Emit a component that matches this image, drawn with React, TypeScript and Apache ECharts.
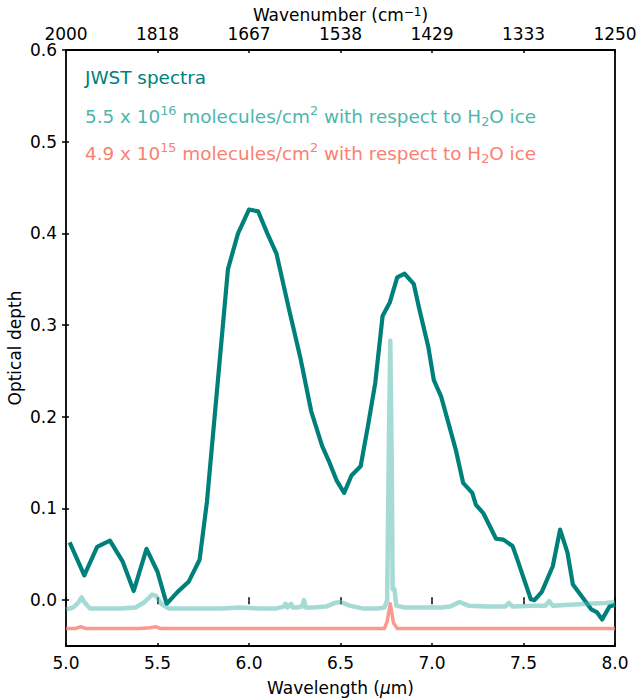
import React, { useEffect, useRef } from "react";
import * as echarts from "echarts";

// Wavelength ticks (µm) and matching wavenumber tick labels (cm^-1)
const wavelengthTicks = [5.0, 5.5, 6.0, 6.5, 7.0, 7.5, 8.0];
const wavenumberLabels = ["2000", "1818", "1667", "1538", "1429", "1333", "1250"];
const depthTicks = [0.0, 0.1, 0.2, 0.3, 0.4, 0.5, 0.6];

// JWST spectra
const jwstX = [5.02, 5.10, 5.17, 5.24, 5.31, 5.37, 5.44, 5.50, 5.55, 5.61, 5.67, 5.73, 5.77, 5.885, 5.94, 6.00, 6.05, 6.10, 6.15, 6.22, 6.28, 6.34, 6.40, 6.44, 6.48, 6.52, 6.56, 6.61, 6.65, 6.69, 6.73, 6.77, 6.81, 6.85, 6.90, 6.93, 6.98, 7.01, 7.05, 7.13, 7.17, 7.22, 7.24, 7.28, 7.35, 7.39, 7.44, 7.46, 7.54, 7.56, 7.60, 7.66, 7.70, 7.74, 7.77, 7.83, 7.87, 7.90, 7.93, 7.97, 8.0];
const jwstY = [0.063, 0.027, 0.058, 0.065, 0.042, 0.010, 0.056, 0.031, -0.004, 0.009, 0.020, 0.044, 0.107, 0.361, 0.400, 0.426, 0.424, 0.400, 0.378, 0.316, 0.265, 0.206, 0.168, 0.150, 0.130, 0.117, 0.136, 0.146, 0.190, 0.237, 0.310, 0.325, 0.352, 0.356, 0.345, 0.318, 0.276, 0.240, 0.222, 0.164, 0.128, 0.117, 0.104, 0.095, 0.067, 0.066, 0.059, 0.048, 0.001, 0.000, 0.009, 0.037, 0.077, 0.052, 0.017, 0.001, -0.010, -0.013, -0.021, -0.007, -0.005];

// 5.5 x 10^16 molecules/cm^2 w.r.t. H2O ice
const labAX = [5.0, 5.04, 5.07, 5.085, 5.10, 5.13, 5.2, 5.3, 5.38, 5.43, 5.47, 5.49, 5.52, 5.56, 5.65, 5.75, 5.85, 5.95, 6.05, 6.15, 6.19, 6.20, 6.21, 6.23, 6.24, 6.26, 6.29, 6.30, 6.31, 6.35, 6.42, 6.47, 6.50, 6.55, 6.62, 6.70, 6.74, 6.755, 6.765, 6.772, 6.78, 6.785, 6.795, 6.805, 6.85, 6.95, 7.05, 7.10, 7.15, 7.20, 7.30, 7.40, 7.42, 7.44, 7.55, 7.62, 7.64, 7.66, 7.75, 7.85, 7.95, 8.0];
const labAY = [-0.010, -0.008, -0.002, 0.003, -0.002, -0.009, -0.009, -0.009, -0.008, -0.002, 0.006, 0.005, -0.004, -0.009, -0.009, -0.009, -0.009, -0.008, -0.009, -0.009, -0.007, -0.004, -0.008, -0.004, -0.008, -0.008, -0.007, 0.000, -0.008, -0.008, -0.007, -0.003, -0.002, -0.006, -0.009, -0.009, -0.008, 0.000, 0.180, 0.283, 0.150, 0.012, 0.012, -0.006, -0.008, -0.008, -0.008, -0.007, -0.002, -0.006, -0.007, -0.007, -0.003, -0.007, -0.006, -0.006, -0.001, -0.006, -0.005, -0.004, -0.003, -0.002];

// 4.9 x 10^15 molecules/cm^2 w.r.t. H2O ice
const labBX = [5.0, 5.05, 5.08, 5.11, 5.2, 5.4, 5.46, 5.49, 5.52, 5.7, 6.0, 6.3, 6.5, 6.74, 6.755, 6.772, 6.79, 6.81, 7.0, 7.5, 8.0];
const labBY = [-0.031, -0.031, -0.029, -0.031, -0.031, -0.031, -0.030, -0.029, -0.031, -0.031, -0.031, -0.031, -0.031, -0.031, -0.023, -0.004, -0.025, -0.031, -0.031, -0.031, -0.031];

const FONT = "DejaVu Sans";
const TEAL = "#00807b";
const TEAL_LIGHT_TEXT = "#4db6ac";
const SALMON = "#fa8072";

const zip = (xs: number[], ys: number[]) => xs.map((x, i) => [x, ys[i]]);

export default function App() {
  const ref = useRef<HTMLDivElement>(null);
  useEffect(() => {
    if (!ref.current) return;
    const chart = echarts.init(ref.current, null, { renderer: "svg" });
    const tickStyle = { color: "#000", width: 1.5 };
    const hiddenX = (position: string) => ({
      type: "value",
      min: 5,
      max: 8,
      interval: 0.5,
      position,
      axisLine: { show: false },
      axisLabel: { show: false },
      splitLine: { show: false },
      axisTick: { show: true, inside: true, length: 3, lineStyle: tickStyle },
    });
    const supRich = (fill: string) => ({
      sup: { fontSize: 12.8, fontFamily: FONT, fill, verticalAlign: "top", lineHeight: 10 },
      sub: { fontSize: 12.8, fontFamily: FONT, fill, verticalAlign: "bottom", lineHeight: 11 },
      n: { fontSize: 18.4, fontFamily: FONT, fill, lineHeight: 24 },
    });
    const legendLine = (text: string, fill: string, y: number) => ({
      type: "text",
      x: 85,
      y,
      style: {
        text,
        fill,
        fontSize: 18.4,
        fontFamily: FONT,
        verticalAlign: "middle",
        rich: supRich(fill),
      },
    });
    chart.setOption({
      animation: false,
      backgroundColor: "#fff",
      grid: {
        left: 66,
        right: 24,
        top: 50,
        bottom: 54,
        show: true,
        borderColor: "#000",
        borderWidth: 1.8,
        backgroundColor: "transparent",
        outerBoundsMode: "none",
        containLabel: false,
      },
      xAxis: [
        {
          type: "value",
          min: 5,
          max: 8,
          interval: 0.5,
          position: "bottom",
          axisLine: { show: false },
          splitLine: { show: false },
          axisTick: { show: true, length: 4, lineStyle: tickStyle },
          axisLabel: {
            fontSize: 17,
            fontFamily: FONT,
            color: "#000",
            margin: 8,
            formatter: (v: number) => {
              const i = wavelengthTicks.findIndex((t) => Math.abs(t - v) < 1e-6);
              return i >= 0 ? wavelengthTicks[i].toFixed(1) : "";
            },
          },
          name: "Wavelength ({it|μ}m)",
          nameLocation: "middle",
          nameGap: 33,
          nameMoveOverlap: false,
          nameTextStyle: {
            fontSize: 17,
            fontFamily: FONT,
            color: "#000",
            rich: { it: { fontSize: 17, fontFamily: FONT, fontStyle: "italic", color: "#000" } },
          },
        },
        {
          type: "value",
          min: 5,
          max: 8,
          interval: 0.5,
          position: "top",
          axisLine: { show: false },
          splitLine: { show: false },
          axisTick: { show: true, length: 3, lineStyle: tickStyle },
          axisLabel: {
            fontSize: 17,
            fontFamily: FONT,
            color: "#000",
            margin: 8,
            formatter: (v: number) => {
              const i = wavelengthTicks.findIndex((t) => Math.abs(t - v) < 1e-6);
              return i >= 0 ? wavenumberLabels[i] : "";
            },
          },
          name: "Wavenumber (cm{sup|−1})",
          nameLocation: "middle",
          nameGap: 27,
          nameMoveOverlap: false,
          nameTextStyle: {
            fontSize: 17,
            fontFamily: FONT,
            color: "#000",
            rich: {
              sup: { fontSize: 12, fontFamily: FONT, color: "#000", verticalAlign: "top", lineHeight: 10 },
            },
          },
        },
        hiddenX("bottom"),
        hiddenX("top"),
      ],
      yAxis: [
        {
          type: "value",
          min: -0.05,
          max: 0.6,
          position: "left",
          axisLine: { show: false },
          splitLine: { show: false },
          axisTick: { show: true, length: 4, lineStyle: tickStyle, customValues: depthTicks },
          axisLabel: {
            fontSize: 17,
            fontFamily: FONT,
            color: "#000",
            margin: 9,
            customValues: depthTicks,
            formatter: (v: number) => v.toFixed(1),
          },
          name: "Optical depth",
          nameLocation: "middle",
          nameGap: 43,
          nameMoveOverlap: false,
          nameTextStyle: { fontSize: 17, fontFamily: FONT, color: "#000" },
        },
        {
          type: "value",
          min: -0.05,
          max: 0.6,
          position: "left",
          axisLine: { show: false },
          splitLine: { show: false },
          axisLabel: { show: false },
          axisTick: { show: true, inside: true, length: 3, lineStyle: tickStyle, customValues: depthTicks },
        },
      ],
      series: [
        {
          type: "line",
          data: zip(jwstX, jwstY),
          showSymbol: false,
          symbol: "none",
          lineStyle: { color: TEAL, width: 4.2, join: "round" },
          z: 3,
        },
        {
          type: "line",
          data: zip(labAX, labAY),
          showSymbol: false,
          symbol: "none",
          lineStyle: { color: TEAL_LIGHT_TEXT, opacity: 0.5, width: 4.5, join: "round" },
          z: 4,
        },
        {
          type: "line",
          data: zip(labBX, labBY),
          showSymbol: false,
          symbol: "none",
          lineStyle: { color: SALMON, opacity: 0.8, width: 3.5, join: "round" },
          z: 5,
        },
      ],
      graphic: [
        legendLine("{n|JWST spectra}", TEAL, 77),
        legendLine(
          "{n|5.5 x 10}{sup|16}{n| molecules/cm}{sup|2}{n| with respect to H}{sub|2}{n|O ice}",
          TEAL_LIGHT_TEXT,
          116
        ),
        legendLine(
          "{n|4.9 x 10}{sup|15}{n| molecules/cm}{sup|2}{n| with respect to H}{sub|2}{n|O ice}",
          SALMON,
          153
        ),
      ],
    });
    return () => chart.dispose();
  }, []);
  return (
    <div
      ref={ref}
      style={{ position: "absolute", left: 0, top: 0, width: 639, height: 700 }}
    />
  );
}
